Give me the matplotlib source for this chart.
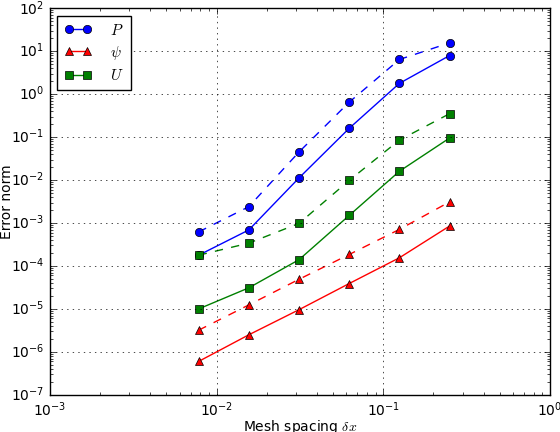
import matplotlib
matplotlib.use("Agg")
import matplotlib.pyplot as plt

plt.style.use("classic")
plt.rcParams["mathtext.fontset"] = "cm"
plt.rcParams["font.size"] = 10

dx = [1 / 128, 1 / 64, 1 / 32, 1 / 16, 1 / 8, 1 / 4]

# solid lines
p_solid = [1.78e-4, 6.9e-4, 0.0112, 0.16, 1.78, 7.9]
psi_solid = [6.0e-7, 2.5e-6, 9.6e-6, 3.9e-5, 1.55e-4, 8.5e-4]
u_solid = [1.0e-5, 3.1e-5, 1.4e-4, 1.5e-3, 0.016, 0.095]

# dashed lines
p_dashed = [6.2e-4, 2.4e-3, 0.045, 0.65, 6.4, 15.6]
psi_dashed = [3.2e-6, 1.24e-5, 4.9e-5, 1.85e-4, 7.1e-4, 3.1e-3]
u_dashed = [1.78e-4, 3.4e-4, 9.8e-4, 9.8e-3, 0.085, 0.35]

labels = ["$P$", r"$\psi$", "$U$"]

fig = plt.figure(figsize=(5.6, 4.32), dpi=100, facecolor="white")
ax = fig.add_axes([0.089, 0.086, 0.893, 0.895])

styles = [("b", "o"), ("r", "^"), ("g", "s")]
for (c, m), ys, lab in zip(styles, [p_solid, psi_solid, u_solid], labels):
    ax.loglog(dx, ys, color=c, marker=m, ls="-", ms=6, mec="k", mew=0.5, label=lab)
for (c, m), ys in zip(styles, [p_dashed, psi_dashed, u_dashed]):
    ax.loglog(dx, ys, color=c, marker=m, ls="--", ms=6, mec="k", mew=0.5)

ax.set_xlim(1e-3, 1)
ax.set_ylim(1e-7, 1e2)
ax.grid(True, which="major", ls=":", color="k")
ax.set_xlabel(r"Mesh spacing $\delta x$", labelpad=-1)
ax.set_ylabel("Error norm", labelpad=-2)
ax.legend(loc="upper left", numpoints=2, fontsize=11, labelspacing=0.4,
          handletextpad=1.2, handlelength=1.8, borderpad=0.45)

fig.savefig("out.png", dpi=100, facecolor="white")
